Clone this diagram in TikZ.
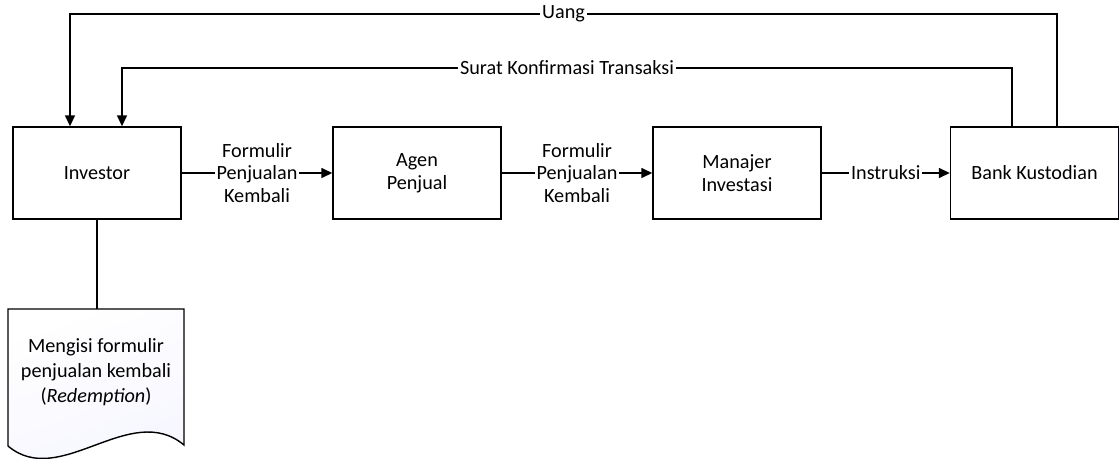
\documentclass[tikz,border=0pt]{standalone}
\usepackage{fontspec}
\setmainfont{Carlito}
\usepackage{tikz}
\usetikzlibrary{arrows.meta, shadows}

\begin{document}
\begin{tikzpicture}[x=0.02cm, y=-0.02cm, line width=0.8pt,
		>={Triangle[length=2.2mm, width=2mm]},
		blok/.style={draw, fill=white, minimum width=3.36cm, minimum height=1.84cm, align=center,
			drop shadow={shadow xshift=0.6pt, shadow yshift=-0.8pt, fill=blue!40, opacity=0.15}},
		lbl/.style={fill=white, inner sep=1pt, align=center}]
		\useasboundingbox (0, 0) rectangle (1120, 459);
		\tikzset{every node/.append style={font=\fontsize{11.5}{13}\selectfont}}
		
		\node[blok] (inv) at (97, 173) {Investor};
		\node[blok] (agen) at (417, 173) {Agen\\Penjual};
		\node[blok] (mi) at (737, 173) {Manajer\\Investasi};
		\node[blok] (bank) at (1034.5, 173) {Bank Kustodian};
		
		% dokumen redemption
		\draw[top color=white, bottom color=blue!4!white, shading angle=20]
			(8, 309) -- (184, 309) -- (184, 445)
			.. controls (130, 400) and (60, 490) .. (8, 446) -- cycle;
		\node[align=center, font=\fontsize{11.5}{14.2}\selectfont] (doc) at (96, 372)
			{Mengisi formulir\\penjualan kembali\\(\textit{Redemption})};
		\coordinate (docTop) at (97, 309);
		
		\coordinate (u1) at (1057, 14);
		\coordinate (u2) at (70, 14);
		\coordinate (s1) at (1012, 68);
		\coordinate (s2) at (122, 68);
		
		\path[->] (inv) edge node[lbl] {Formulir\\Penjualan\\Kembali} (agen)
			(agen) edge node[lbl] {Formulir\\Penjualan\\Kembali} (mi)
			(mi) edge node[lbl] {Instruksi} (bank);
		\draw[->] (bank.north -| u1) -- (u1) -- node[lbl] {Uang} (u2) -- (inv.north -| u2);
		\draw[->] (bank.north -| s1) -- (s1) -- node[lbl] {Surat Konfirmasi Transaksi} (s2) -- (inv.north -| s2);
		\draw (inv) -- (docTop);
	\end{tikzpicture}
\end{document}
